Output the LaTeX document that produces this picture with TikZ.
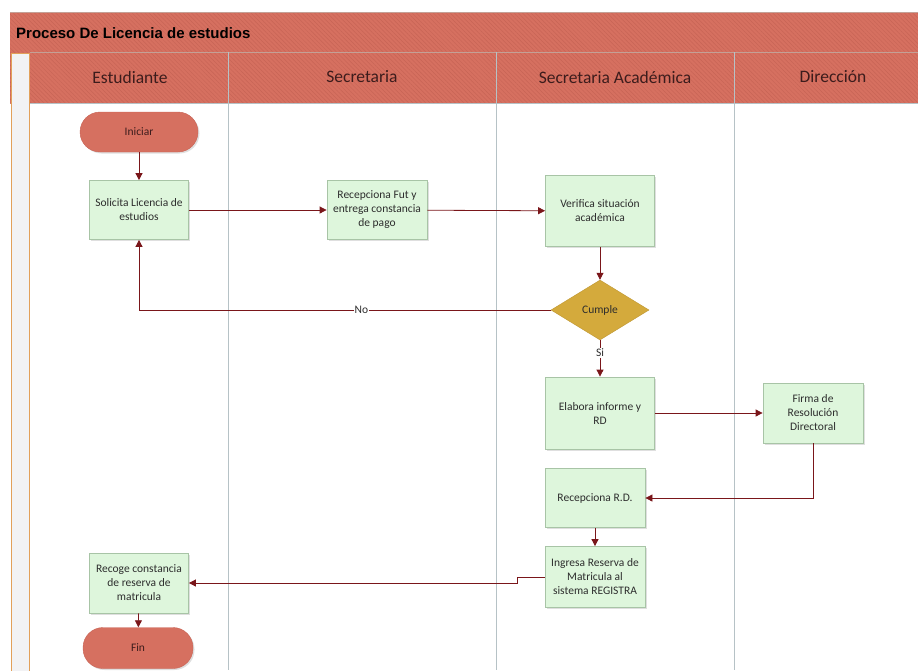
\documentclass[tikz,border=0pt]{standalone}
\usepackage{fontspec}
\setmainfont{Carlito}
\newfontfamily\titlefont{Liberation Sans}
\usetikzlibrary{arrows.meta,shapes.geometric,shadows,patterns.meta}
\definecolor{hdr}{RGB}{214,112,96}
\definecolor{hdrdark}{RGB}{200,100,86}
\definecolor{hdrline}{RGB}{196,160,150}
\definecolor{boxfill}{RGB}{222,246,220}
\definecolor{boxdraw}{RGB}{168,196,166}
\definecolor{dia}{RGB}{212,170,60}
\definecolor{diadraw}{RGB}{190,150,50}
\definecolor{arr}{RGB}{122,22,26}
\definecolor{lane}{RGB}{182,194,198}
\definecolor{txt}{RGB}{45,45,45}
\definecolor{hdrtxt}{RGB}{60,28,28}
\definecolor{barfill}{RGB}{242,242,244}
\definecolor{bardraw}{RGB}{226,160,90}
\tikzset{
  procbox/.style={rectangle, draw=boxdraw, fill=boxfill, line width=0.8pt,
    minimum width=99pt, minimum height=59pt, align=center, text=txt,
    font=\fontsize{11.5}{14}\selectfont, inner sep=1pt,
    drop shadow={shadow xshift=1.5pt, shadow yshift=-1.5pt, opacity=0.25}},
  term/.style={rectangle, rounded corners=20pt, draw=hdrdark, fill=hdr,
    minimum width=118pt, minimum height=40pt, text=hdrtxt,
    font=\fontsize{11.5}{14}\selectfont,
    drop shadow={shadow xshift=1.5pt, shadow yshift=-1.5pt, opacity=0.25}},
  decision/.style={diamond, aspect=1.65, draw=diadraw, fill=dia, inner sep=0pt,
    minimum width=98pt, minimum height=60pt, text=txt,
    font=\fontsize{11.5}{14}\selectfont},
  flow/.style={draw=arr, line width=0.8pt, -{Triangle[length=7pt,width=7pt]}},
  lanehead/.style={text=hdrtxt, font=\fontsize{17.5}{20}\selectfont},
  lanesep/.style={draw=lane, line width=1pt},
  flowlabel/.style={fill=white, inner sep=1pt, text=txt, font=\fontsize{11.5}{13}\selectfont}
}
\begin{document}
\begin{tikzpicture}[x=1pt,y=-1pt]
\useasboundingbox (0,0) rectangle (918,670);
% header bands
\fill[hdr] (10,12) rectangle (918,103);
\fill[pattern={Lines[angle=-45,distance=3pt,line width=0.5pt]}, pattern color=hdrdark] (10,12) rectangle (918,103);
\draw[hdrline, line width=0.8pt] (10,12) -- (918,12);
\draw[hdrline, line width=0.8pt] (30,52) -- (918,52);
\draw[lane, line width=1pt] (30,103) -- (918,103);
\node[anchor=west, inner sep=0pt, font=\titlefont\bfseries\fontsize{15}{17}\selectfont, text=black] (title) at (16,33) {Proceso De Licencia de estudios};
% left bar
\filldraw[fill=barfill, draw=bardraw, line width=1pt] (11,53) rectangle (29,671);
% lane separators
\draw[lanesep] (228,52) -- (228,670);
\draw[lanesep] (496,52) -- (496,670);
\draw[lanesep] (734,52) -- (734,670);
% lane headings
\node[lanehead] (h1) at (130,77) {Estudiante};
\node[lanehead] (h2) at (362,77) {Secretaria};
\node[lanehead] (h3) at (615,77) {Secretaria Académica};
\node[lanehead] (h4) at (833,77) {Dirección};
% nodes
\node[term] (ini) at (139,132) {Iniciar};
\node[procbox] (sol) at (139,210) {Solicita Licencia de\\estudios};
\node[procbox, minimum width=100pt] (rfut) at (377,210) {Recepciona Fut y\\entrega constancia\\de pago};
\node[procbox, minimum width=109pt, minimum height=71pt] (ver) at (600,211) {Verifica situación\\académica};
\node[decision] (cum) at (600,310) {Cumple};
\node[procbox, minimum width=109pt, minimum height=72pt] (ela) at (600,413) {Elabora informe y\\RD};
\node[procbox, minimum width=100pt, minimum height=60pt] (fir) at (813,413) {Firma de\\Resolución\\Directoral};
\node[procbox, minimum width=100pt] (rrd) at (595,498) {Recepciona R.D.};
\node[procbox, minimum width=100pt, minimum height=61pt] (ing) at (595,577) {Ingresa Reserva de\\Matricula al\\sistema REGISTRA};
\node[procbox, minimum width=99pt, minimum height=60pt] (rec) at (139,583) {Recoge constancia\\de reserva de\\matricula};
\node[term, minimum width=110pt, minimum height=41pt] (fin) at (138,648) {Fin};
\coordinate (j1) at (517,577);
% connectors
\draw[flow] (ini) -- (sol);
\draw[flow] (sol) -- (rfut);
\draw[flow] (rfut) -- (ver);
\draw[flow] (ver) -- (cum);
\draw[flow] (cum.west) -| node[flowlabel, pos=0.23] (no) {No} (sol.south);
\draw[flow] (cum.south) -- node[flowlabel, pos=0.35] (si) {Si} (ela.north);
\draw[flow] (ela) -- (fir);
\draw[flow] (fir.south) |- (rrd.east);
\draw[flow] (rrd) -- (ing);
\draw[flow] (ing.west) -- (j1) |- (rec.east);
\draw[flow] (rec) -- (fin);
\end{tikzpicture}
\end{document}
